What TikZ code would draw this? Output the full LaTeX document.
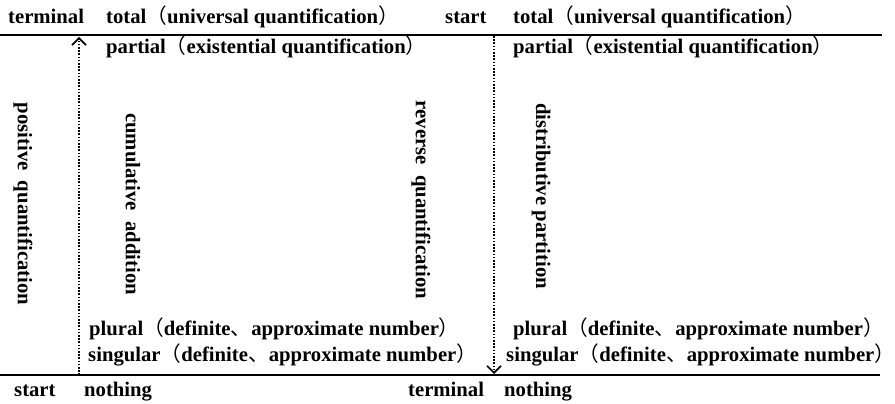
\documentclass[tikz,border=0pt]{standalone}
\usepackage{fontspec}
\setmainfont{Liberation Serif}
\newfontfamily\cjkfont{Noto Sans CJK SC}
\usetikzlibrary{arrows.meta}
% full-width punctuation; the closing bracket keeps only its inked half
\newcommand\lpar{{\cjkfont\mdseries （}}
\newcommand\rpar{\makebox[0.55em][l]{\cjkfont\mdseries ）}}
\newcommand\dun{{\cjkfont\mdseries 、}}
\begin{document}
\begin{tikzpicture}[x=1pt,y=-1pt,
  lbl/.style={anchor=base west,inner sep=0pt,font=\fontsize{20.7}{25}\selectfont\bfseries},
  vlbl/.style={rotate=-90,inner sep=0pt,font=\fontsize{20.7}{25}\selectfont\bfseries},
  rule/.style={line width=1.8pt},
  flow/.style={line width=2pt,dash pattern=on 1.6pt off 1.6pt,
    -{Straight Barb[length=7pt,width=14pt,line width=1.6pt,sep=0pt]}}]
\useasboundingbox (0,0) rectangle (895,404);

% top row
\node[lbl] (term1) at (8,24) {terminal};
\node[lbl] (tot1) at (106,24) {total\lpar universal quantification\rpar};
\node[lbl] (start1) at (445,24) {start};
\node[lbl] (tot2) at (513,24) {total\lpar universal quantification\rpar};

% horizontal rules
\coordinate (tl) at (0,35);
\coordinate (tr) at (882,35);
\coordinate (bl) at (0,375);
\coordinate (br) at (880,375);
\draw[rule] (tl) -- (tr);
\draw[rule] (bl) -- (br);

\node[lbl] (par1) at (106,54) {partial\lpar existential quantification\rpar};
\node[lbl] (par2) at (513,54) {partial\lpar existential quantification\rpar};

% vertical captions
\node[vlbl] (pos) at (23,204) {positive\ \ quantification};
\node[vlbl] (cum) at (133,204) {cumulative\ \ addition};
\node[vlbl] (rev) at (421,200) {reverse\ \ quantification};
\node[vlbl] (dis) at (541,196) {distributive partition};

\node[lbl] (plu1) at (89,335) {plural\lpar definite\dun approximate number\rpar};
\node[lbl] (plu2) at (513,335) {plural\lpar definite\dun approximate number\rpar};
\node[lbl] (sin1) at (88,361) {singular\lpar definite\dun approximate number\rpar};
\node[lbl] (sin2) at (506,361) {singular\lpar definite\dun approximate number\rpar};

% bottom row
\node[lbl] (start2) at (14,396) {start};
\node[lbl] (not1) at (84,396) {nothing};
\node[lbl] (term2) at (408,396) {terminal};
\node[lbl] (not2) at (504,396) {nothing};

% dotted direction arrows
\coordinate (la) at (79,375);
\coordinate (lb) at (79,37);
\coordinate (ra) at (494,36);
\coordinate (rb) at (494,374);
\draw[flow] (la) -- (lb);
\draw[flow] (ra) -- (rb);
\end{tikzpicture}
\end{document}
